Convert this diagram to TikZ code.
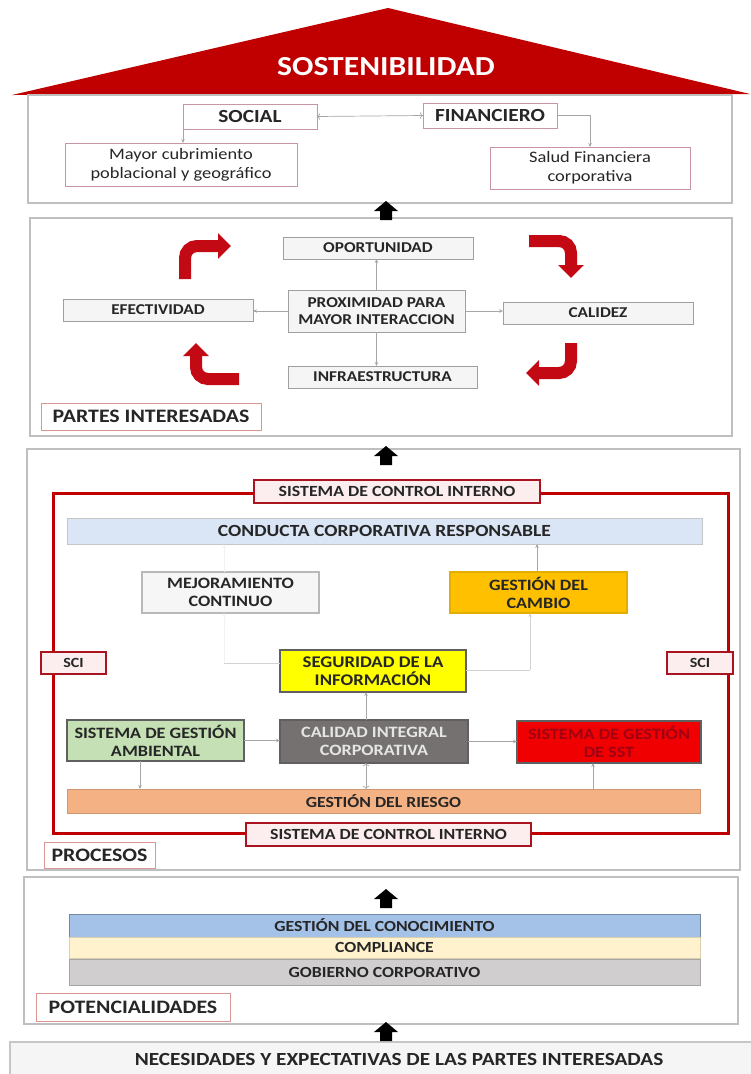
\documentclass[tikz,border=0pt]{standalone}
\usepackage{fontspec}
\setmainfont{Carlito}[FakeStretch=1.15]
\usetikzlibrary{arrows.meta}
\definecolor{roofred}{RGB}{192,0,0}
\definecolor{txt}{RGB}{38,38,38}
\definecolor{pinkline}{RGB}{200,150,160}
\definecolor{labelred}{RGB}{220,150,150}
\definecolor{darkred}{RGB}{170,20,30}
\definecolor{pinkfill}{RGB}{252,238,238}
\definecolor{arrowred}{RGB}{195,10,20}
\definecolor{lblue}{RGB}{218,230,245}
\definecolor{cambioc}{RGB}{255,192,0}
\definecolor{segc}{RGB}{255,255,0}
\definecolor{ambc}{RGB}{197,224,180}
\definecolor{calc}{RGB}{118,113,113}
\definecolor{sstc}{RGB}{240,0,0}
\definecolor{ssttxt}{RGB}{160,0,20}
\definecolor{riesc}{RGB}{244,177,131}
\definecolor{conoc}{RGB}{164,194,232}
\definecolor{compc}{RGB}{255,242,204}
\definecolor{gobc}{RGB}{208,206,206}
\newcommand\fsz[2]{\fontsize{#1}{#2}\selectfont}
\newcommand\rbox[7]{\node[#1, minimum width={(#5)-(#3)}, minimum height={(#6)-(#4)}] (#2) at ({((#3)+(#5))/2},{((#4)+(#6))/2}) {#7};}
\newcommand\fatup[2]{\fill[black] (#1,#2) -- ++(12,10) -- ++(-6,0) -- ++(0,9) -- ++(-12,0) -- ++(0,-9) -- ++(-6,0) -- cycle;}
\tikzset{
  every node/.style={outer sep=0pt, inner sep=1pt, text=txt, align=center},
  big/.style={draw=gray!50, line width=1.3pt},
  pill/.style={draw=pinkline, line width=1pt, fill=white, font=\fsz{18.5}{20}\bfseries},
  desc/.style={draw=pinkline, line width=0.8pt, fill=white, font=\fsz{16}{19}},
  greybox/.style={draw=gray!75, line width=0.9pt, fill=gray!8, font=\fsz{15}{17}\bfseries},
  label/.style={draw=labelred, line width=0.9pt, fill=white, font=\fsz{19}{21}\bfseries},
  scilabel/.style={draw=darkred, line width=1.4pt, fill=pinkfill, font=\fsz{15.5}{17}\bfseries},
  proc/.style={line width=1.2pt, draw=gray!75!black, font=\fsz{15.8}{18}\bfseries},
  band/.style={line width=1pt, font=\fsz{15.4}{17}\bfseries},
  frame/.style={draw=roofred, line width=3pt},
  conn/.style={draw=gray!70, line width=0.7pt, -{Stealth[length=4pt,width=3.5pt]}},
  lconn/.style={draw=gray!35, line width=0.7pt, -{Stealth[length=4pt,width=3.5pt]}},
  faint/.style={draw=gray!10, line width=0.6pt, -{Stealth[length=4pt,width=3.5pt]}},
  redarrow/.style={draw=arrowred, line width=12pt, rounded corners=12pt, -{Triangle[length=13pt,width=25pt]}}
}
\begin{document}
\begin{tikzpicture}[x=1pt,y=-1pt]
\useasboundingbox (0,0) rectangle (750,1074);
% ---------- roof and top box
\fill[roofred] (12,95) -- (388,8) -- (750,94) -- cycle;
\node[font=\fsz{27.5}{30}\bfseries, text=white] (sost) at (386,67) {SOSTENIBILIDAD};
\rbox{big}{topbox}{28}{95}{732}{203}{}
\rbox{pill}{social}{183}{104}{317}{129}{SOCIAL}
\rbox{pill}{fin}{423}{103}{557}{128}{FINANCIERO}
\rbox{desc}{mayor}{65}{143}{297}{186}{Mayor cubrimiento\\poblacional y geográfico}
\rbox{desc}{salud}{490}{147}{690}{189}{Salud Financiera\\corporativa}
\draw[conn,<->] (fin.west) -- (social.east);
\draw[conn] (social.west) -- (social.west |- mayor.north);
\draw[conn] (fin.east) -| (salud.north);
% ---------- partes interesadas
\rbox{big}{partesbox}{30}{218}{732}{436}{}
\rbox{greybox}{oport}{283}{237}{473}{259}{OPORTUNIDAD}
\rbox{greybox}{prox}{288}{290}{465}{332}{PROXIMIDAD PARA\\MAYOR INTERACCION}
\rbox{greybox}{efect}{63}{299}{253}{321}{EFECTIVIDAD}
\rbox{greybox}{calidez}{503}{302}{693}{324}{CALIDEZ}
\rbox{greybox}{infra}{288}{366}{477}{388}{INFRAESTRUCTURA}
\rbox{label}{partes}{41}{403}{261}{430}{PARTES INTERESADAS}
\draw[conn] (prox.north) -- (prox.north |- oport.south);
\draw[conn] (prox.west) -- (prox.west -| efect.east);
\draw[conn] (prox.east) -- (prox.east -| calidez.west);
\draw[conn] (prox.south) -- (prox.south |- infra.north);
\draw[redarrow] (185,279) |- (231,246);
\draw[redarrow] (529,241) -| (571,278);
\draw[redarrow] (571,343) |- (526,373);
\draw[redarrow] (239,379) -| (196,343);
% ---------- procesos
\rbox{big}{procbox}{27}{449}{740}{870}{}
\rbox{frame}{sciframe}{53}{493}{728}{833}{}
\rbox{band, fill=lblue, draw=gray!45}{conducta}{67}{518}{702}{544}{\fsz{17}{19}CONDUCTA CORPORATIVA RESPONSABLE}
\rbox{proc, fill=gray!7, draw=gray!55}{mejor}{142}{572}{319}{613}{MEJORAMIENTO\\CONTINUO}
\rbox{proc, fill=cambioc, draw=cambioc!90!black}{cambio}{450}{572}{627}{613}{GESTIÓN DEL\\CAMBIO}
\rbox{proc, fill=segc, font=\fsz{16.3}{18}\bfseries}{segur}{280}{650}{466}{692}{SEGURIDAD DE LA\\INFORMACIÓN}
\rbox{proc, fill=ambc}{ambient}{67}{720}{244}{761}{SISTEMA DE GESTIÓN\\AMBIENTAL}
\rbox{proc, fill=calc, text=gray!20}{calidad}{280}{720}{468}{763}{CALIDAD INTEGRAL\\CORPORATIVA}
\rbox{proc, fill=sstc, text=ssttxt}{sst}{517}{721}{701}{763}{SISTEMA DE GESTIÓN\\DE SST}
\rbox{band, fill=riesc, draw=riesc!85!black}{riesgo}{67}{789}{700}{813}{GESTIÓN DEL RIESGO}
\rbox{scilabel}{scitop}{254}{480}{540}{503}{SISTEMA DE CONTROL INTERNO}
\rbox{scilabel}{scibot}{246}{823}{531}{846}{SISTEMA DE CONTROL INTERNO}
\rbox{scilabel, font=\fsz{14}{16}\bfseries}{scil}{41}{652}{106}{674}{SCI}
\rbox{scilabel, font=\fsz{14}{16}\bfseries}{scir}{667}{652}{733}{674}{SCI}
\rbox{label}{procesos}{44}{842}{155}{868}{PROCESOS}
\coordinate (mj) at (224,663);
\coordinate (cb) at (530,670);
\coordinate (cc) at (537,560);
\coordinate (sg) at (366,700);
\coordinate (am) at (140,775);
\coordinate (st) at (593,775);
\draw[conn] (cambio.north -| cc) -- (conducta.south -| cc);
\draw[faint] (mejor.north -| mj) -- (conducta.south -| mj);
\draw[faint] (mj) -- (mejor.south -| mj);
\draw[lconn,-] (mj) -- (segur.west |- mj);
\draw[lconn,-] (segur.east |- cb) -- (cb);
\draw[lconn] (cb) -- (cambio.south -| cb);
\draw[conn] (calidad.north -| sg) -- (segur.south -| sg);
\draw[conn] (ambient.east) -- (ambient.east -| calidad.west);
\draw[conn] (calidad.east) -- (calidad.east -| sst.west);
\draw[conn] (ambient.south -| am) -- (riesgo.north -| am);
\draw[conn,<->] (calidad.south -| sg) -- (riesgo.north -| sg);
\draw[conn] (riesgo.north -| st) -- (sst.south -| st);
% ---------- potencialidades
\rbox{big}{potbox}{24}{877}{738}{1024}{}
\rbox{band, fill=conoc, draw=conoc!70!black}{conoc}{69}{914}{700}{937}{GESTIÓN DEL CONOCIMIENTO}
\rbox{band, fill=compc, draw=compc!85!black}{compl}{69}{937}{700}{958}{COMPLIANCE}
\rbox{band, fill=gobc, draw=gobc!80!black}{gob}{69}{959}{700}{985}{GOBIERNO CORPORATIVO}
\rbox{label}{pot}{36}{993}{230}{1021}{POTENCIALIDADES}
% ---------- base
\rbox{draw=gray!45, line width=1.2pt, fill=gray!8, font=\fsz{18.5}{20}\bfseries, text=black!85}{neces}{10}{1042}{788}{1076}{NECESIDADES Y EXPECTATIVAS DE LAS PARTES INTERESADAS}
% ---------- fat arrows
\fatup{386}{201}
\fatup{386}{446}
\fatup{386}{889}
\fatup{386}{1022}
\end{tikzpicture}
\end{document}
